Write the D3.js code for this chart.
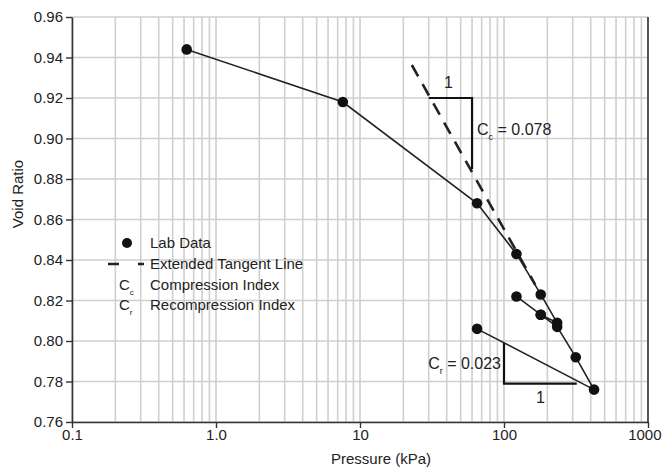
<!DOCTYPE html>
<html>
<head>
<meta charset="utf-8">
<script src="https://cdn.jsdelivr.net/npm/d3@7"></script>
<style>
  html, body { margin: 0; padding: 0; background: #fff; }
  svg { display: block; font-family: "Liberation Sans", Arial, sans-serif; }
</style>
</head>
<body>
<div id="chart"></div>
<script>
// lab data, in test order (load, unload, reload, unload)
const pressures = [0.626, 7.6, 65, 122, 180, 234, 180, 122, 180, 234, 315, 422, 65];
const voidRatios = [0.944, 0.918, 0.868, 0.843, 0.823, 0.809, 0.813, 0.822, 0.813, 0.807, 0.792, 0.776, 0.806];

// extended tangent line
const tangentP = [22.9, 165];
const tangentE = [0.9363, 0.8277];

// slope triangles
const ccP = [30, 60, 60];
const ccE = [0.92, 0.92, 0.885];
const crP = [100, 100, 320];
const crE = [0.799, 0.779, 0.779];

const xTicks = [0.1, 1, 10, 100, 1000];
const xTickLabels = ["0.1", "1.0", "10", "100", "1000"];
const yTicks = [0.76, 0.78, 0.80, 0.82, 0.84, 0.86, 0.88, 0.90, 0.92, 0.94, 0.96];

const width = 662, height = 473;
const margin = { top: 17, right: 14, bottom: 51, left: 72 };
const innerW = width - margin.left - margin.right;
const innerH = height - margin.top - margin.bottom;

const x = d3.scaleLog().domain([0.1, 1000]).range([0, innerW]);
const y = d3.scaleLinear().domain([0.76, 0.96]).range([innerH, 0]);

const svg = d3.select("#chart").append("svg")
  .attr("width", width)
  .attr("height", height);

const g = svg.append("g").attr("transform", `translate(${margin.left},${margin.top})`);

// minor grid (1..9 per decade)
const gridX = [];
[0.1, 1, 10, 100].forEach((d) => {
  for (let k = 1; k <= 9; k++) gridX.push(d * k);
});
gridX.push(1000);

g.append("g")
  .selectAll("line")
  .data(gridX)
  .join("line")
  .attr("x1", (d) => x(d))
  .attr("x2", (d) => x(d))
  .attr("y1", 0)
  .attr("y2", innerH)
  .attr("stroke", "#cfcfcf")
  .attr("stroke-width", 1.6);

g.append("g")
  .selectAll("line")
  .data(yTicks)
  .join("line")
  .attr("x1", 0)
  .attr("x2", innerW)
  .attr("y1", (d) => y(d))
  .attr("y2", (d) => y(d))
  .attr("stroke", "#cfcfcf")
  .attr("stroke-width", 1.6);

// axes
const xAxis = g.append("g")
  .attr("transform", `translate(0,${innerH})`)
  .call(d3.axisBottom(x).tickValues(xTicks).tickFormat((d, i) => xTickLabels[i]).tickSize(6).tickSizeOuter(0));
xAxis.select(".domain").attr("stroke", "#333").attr("stroke-width", 1.6);
xAxis.selectAll(".tick line").attr("stroke", "#333").attr("stroke-width", 1.4);
xAxis.selectAll("text")
  .attr("font-size", 15)
  .attr("fill", "#222")
  .attr("font-family", "Liberation Sans, Arial, sans-serif")
  .attr("dy", "0.95em")
  .attr("y", 4);
// last label sits at the window edge; keep it inside
xAxis.selectAll(".tick text")
  .filter((d) => d === 1000)
  .attr("text-anchor", "end")
  .attr("x", width - margin.left - innerW - 1);

const yAxis = g.append("g")
  .call(d3.axisLeft(y).tickValues(yTicks).tickFormat(d3.format(".2f")).tickSize(6).tickSizeOuter(0));
yAxis.select(".domain").attr("stroke", "#333").attr("stroke-width", 1.6);
yAxis.selectAll(".tick line").attr("stroke", "#333").attr("stroke-width", 1.4);
yAxis.selectAll("text")
  .attr("font-size", 15)
  .attr("fill", "#222")
  .attr("font-family", "Liberation Sans, Arial, sans-serif")
  .attr("x", -9);

// right border
g.append("line")
  .attr("x1", innerW).attr("x2", innerW)
  .attr("y1", 0).attr("y2", innerH)
  .attr("stroke", "#333")
  .attr("stroke-width", 1.6);

// axis titles
svg.append("text")
  .attr("x", margin.left + x(10) + 21)
  .attr("y", 464)
  .attr("text-anchor", "middle")
  .attr("font-size", 15)
  .attr("fill", "#222")
  .text("Pressure (kPa)");

svg.append("text")
  .attr("transform", "translate(23,194) rotate(-90)")
  .attr("text-anchor", "middle")
  .attr("font-size", 15)
  .attr("fill", "#222")
  .text("Void Ratio");

// extended tangent
g.append("line")
  .attr("x1", x(tangentP[0])).attr("y1", y(tangentE[0]))
  .attr("x2", x(tangentP[1])).attr("y2", y(tangentE[1]))
  .attr("stroke", "#222")
  .attr("stroke-width", 2.6)
  .attr("stroke-dasharray", "13,9");

// triangles
const tri = d3.line().x((d) => x(d[0])).y((d) => y(d[1]));
g.append("path")
  .attr("d", tri(ccP.map((p, i) => [p, ccE[i]])))
  .attr("fill", "none")
  .attr("stroke", "#111")
  .attr("stroke-width", 2.2);
g.append("path")
  .attr("d", tri(crP.map((p, i) => [p, crE[i]])))
  .attr("fill", "none")
  .attr("stroke", "#111")
  .attr("stroke-width", 2.2);

// lab data
const pts = pressures.map((p, i) => [p, voidRatios[i]]);
g.append("path")
  .attr("d", tri(pts))
  .attr("fill", "none")
  .attr("stroke", "#222")
  .attr("stroke-width", 1.6);

g.append("g")
  .selectAll("circle")
  .data(pts)
  .join("circle")
  .attr("cx", (d) => x(d[0]))
  .attr("cy", (d) => y(d[1]))
  .attr("r", 5.3)
  .attr("fill", "#111");

// annotations
g.append("text")
  .attr("x", x(ccP[0]) + (x(ccP[1]) - x(ccP[0])) / 2 - 2)
  .attr("y", y(ccE[0]) - 10)
  .attr("text-anchor", "middle")
  .attr("font-size", 16)
  .attr("fill", "#222")
  .text("1");

const ccLabel = g.append("text")
  .attr("x", x(ccP[1]) + 5)
  .attr("y", y(0.9045) + 6)
  .attr("font-size", 16)
  .attr("fill", "#222");
ccLabel.append("tspan").text("C");
ccLabel.append("tspan").attr("font-size", 9).attr("dy", 5).text("c");
ccLabel.append("tspan").attr("dy", -5).text(" = 0.078");

g.append("text")
  .attr("x", x(Math.sqrt(crP[1] * crP[2])))
  .attr("y", y(crE[1]) + 19)
  .attr("text-anchor", "middle")
  .attr("font-size", 16)
  .attr("fill", "#222")
  .text("1");

const crLabel = g.append("text")
  .attr("x", x(crP[0]) - 3)
  .attr("y", y(0.789) + 6)
  .attr("text-anchor", "end")
  .attr("font-size", 16)
  .attr("fill", "#222");
crLabel.append("tspan").text("C");
crLabel.append("tspan").attr("font-size", 9).attr("dy", 5).text("r");
crLabel.append("tspan").attr("dy", -5).text(" = 0.023");

// legend
const legend = svg.append("g");
const legendRows = [
  { y: 243, label: "Lab Data" },
  { y: 264, label: "Extended Tangent Line" },
  { y: 285, label: "Compression Index", sym: "c" },
  { y: 305, label: "Recompression Index", sym: "r" },
];

legend.append("circle")
  .attr("cx", 127)
  .attr("cy", legendRows[0].y)
  .attr("r", 5)
  .attr("fill", "#111");

legend.append("line")
  .attr("x1", 108).attr("x2", 144)
  .attr("y1", legendRows[1].y).attr("y2", legendRows[1].y)
  .attr("stroke", "#222")
  .attr("stroke-width", 2.4)
  .attr("stroke-dasharray", "11,19,6");

legendRows.forEach((r) => {
  legend.append("text")
    .attr("x", 150)
    .attr("y", r.y + 5)
    .attr("font-size", 15)
    .attr("fill", "#222")
    .text(r.label);
  if (r.sym) {
    const t = legend.append("text")
      .attr("x", 119)
      .attr("y", r.y + 5)
      .attr("font-size", 15)
      .attr("fill", "#222");
    t.append("tspan").text("C");
    t.append("tspan").attr("font-size", 8).attr("dy", 5).text(r.sym);
  }
});
</script>
</body>
</html>
